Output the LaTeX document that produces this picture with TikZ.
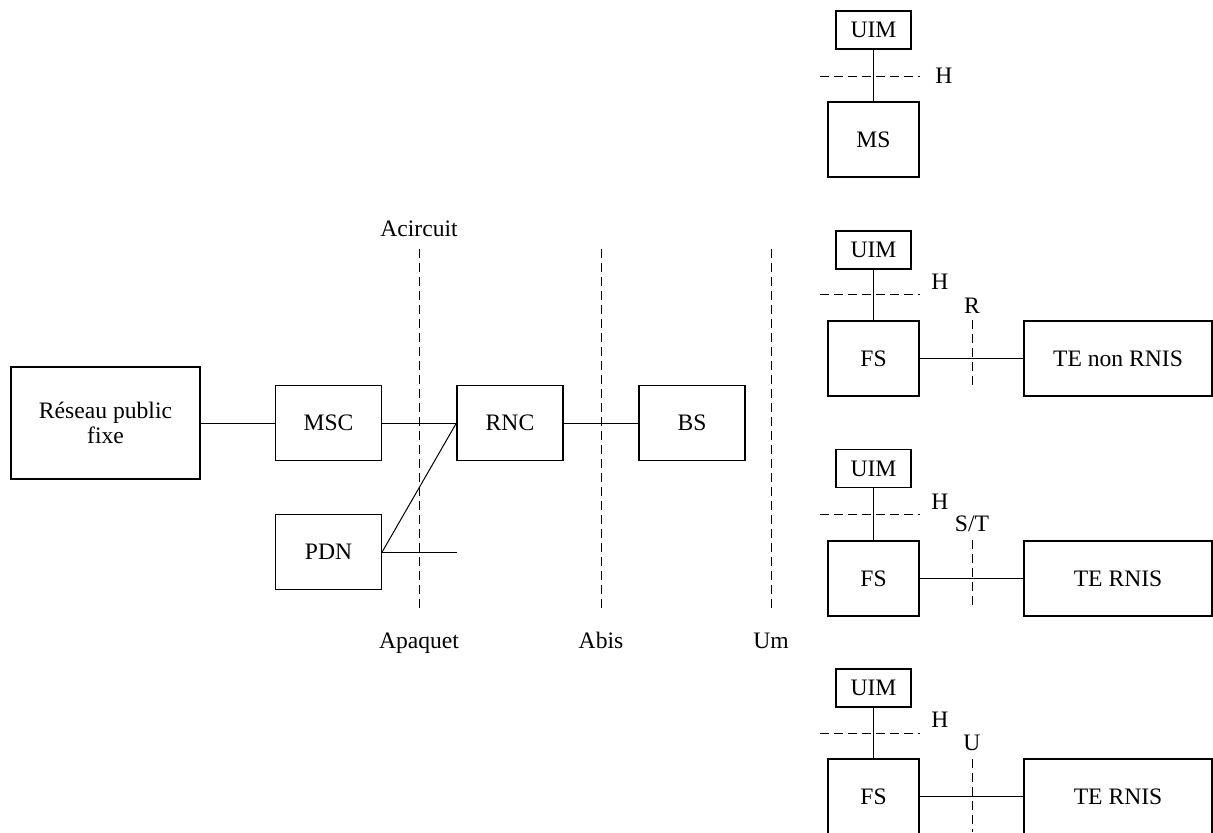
\documentclass[tikz,border=0pt]{standalone}
\usepackage{fontspec}
\setmainfont{Liberation Serif}
\usetikzlibrary{calc}

\begin{document}
\begin{tikzpicture}[x=0.5pt,y=-0.5pt,line width=0.5pt]
\tikzstyle{every node} = [font=\fontsize{11.8}{12}\selectfont]
\tikzstyle{box} = [draw, line width=0.6pt, inner sep=0pt, align=center]
\tikzstyle{net} = [box, minimum width=53pt, minimum height=37.75pt]
\tikzstyle{uim} = [box, minimum width=37.5pt, minimum height=19pt]
\tikzstyle{term} = [box, minimum width=45.5pt, minimum height=37.5pt]
\tikzstyle{te} = [box, minimum width=94pt, minimum height=37.5pt]
\tikzstyle{lbl} = [inner sep=0pt, text height=8.5pt, text depth=2.5pt]
\tikzstyle{iface} = [dash pattern=on 4.5pt off 2.5pt]
\useasboundingbox (0,0) rectangle (1213,832);

% reseau fixe
\node[box, minimum width=94.5pt, minimum height=56pt](res) at (105.5,423) {Réseau public\\[0.3pt]fixe};
\node[net](msc) at (328.5,423) {MSC};
\node[net](pdn) at (328.5,552) {PDN};
\node[net](rnc) at (510,423) {RNC};
\node[net](bs) at (692,423) {BS};
\coordinate(pdnend) at (457,552);

\draw(res.east) -- (msc.west);
\draw(msc.east) -- (rnc.west);
\draw(pdn.east) -- (rnc.west);
\draw(pdn.east) -- (pdnend);
\draw(rnc.east) -- (bs.west);

% interfaces
\node[lbl](acirc) at (419,230) {Acircuit};
\node[lbl](apaq) at (419,642) {Apaquet};
\node[lbl](abis) at (601,642) {Abis};
\node[lbl](um) at (771,642) {Um};
\draw[iface] (419,249) -- (419,610);
\draw[iface] (601,249) -- (601,610);
\draw[iface] (771,249) -- (771,610);

% stations
\node[uim](uima) at (873.5,30) {UIM};
\node[term](ms) at (873.5,139.5) {MS};
\draw(uima) -- (ms);
\draw[iface] (820,76) -- (920,76);
\node(ha) at (944,76) {H};

\node[uim](uimb) at (873.5,250) {UIM};
\node[term](fsb) at (873.5,358.5) {FS};
\node[te](teb) at (1118,358.5) {TE non RNIS};
\draw(uimb) -- (fsb);
\draw(fsb) -- (teb);
\draw[iface] (820,294) -- (920,294);
\node(hb) at (940,282) {H};
\node(r) at (972,306) {R};
\draw[iface] (972,320) -- (972,390);

\node[uim](uimc) at (873.5,468.5) {UIM};
\node[term](fsc) at (873.5,578.5) {FS};
\node[te](tec) at (1118,578.5) {TE RNIS};
\draw(uimc) -- (fsc);
\draw(fsc) -- (tec);
\draw[iface] (820,514) -- (920,514);
\node(hc) at (940,502) {H};
\node(st) at (972,524) {S/T};
\draw[iface] (972,540) -- (972,610);

\node[uim](uimd) at (873.5,688) {UIM};
\node[term](fsd) at (873.5,796.5) {FS};
\node[te](ted) at (1118,796.5) {TE RNIS};
\draw(uimd) -- (fsd);
\draw(fsd) -- (ted);
\draw[iface] (820,733) -- (920,733);
\node(hd) at (940,720) {H};
\node(u) at (972,743) {U};
\draw[iface] (972,759) -- (972,832);
\end{tikzpicture}
\end{document}
